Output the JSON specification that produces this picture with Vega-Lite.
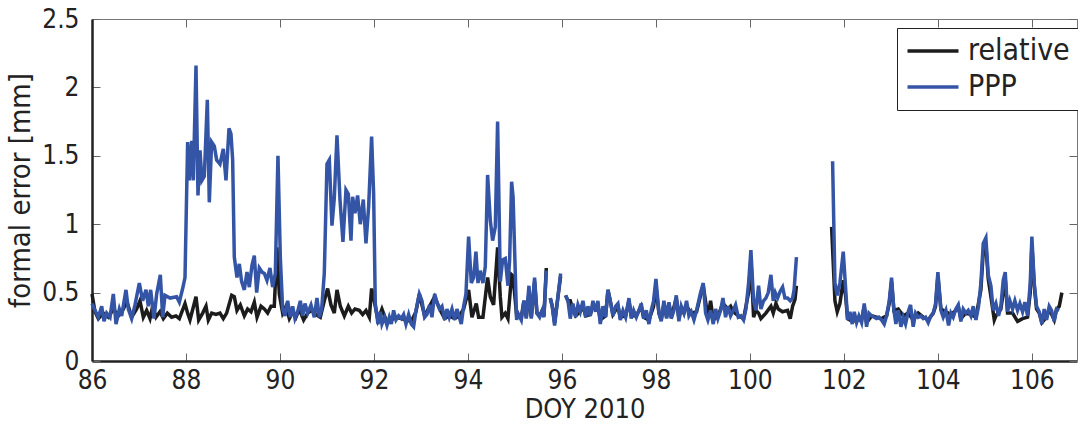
{
  "$schema": "https://vega.github.io/schema/vega-lite/v6.json",
  "width": 985,
  "height": 342,
  "autosize": "none",
  "padding": {"left": 92, "top": 19, "right": 1, "bottom": 64},
  "background": "white",
  "config": {
    "view": {"stroke": null},
    "font": "Liberation Sans Narrow, DejaVu Sans Condensed, Liberation Sans",
    "axis": {"grid": false, "labelFont": "Liberation Sans Narrow, DejaVu Sans Condensed, Liberation Sans", "titleFont": "Liberation Sans Narrow, DejaVu Sans Condensed, Liberation Sans"},
    "legend": {"labelFont": "Liberation Sans Narrow, DejaVu Sans Condensed, Liberation Sans"}
  },
  "datasets": {
    "relative": [
      {"doy": 86.0, "err": 0.49}, {"doy": 86.064, "err": 0.36}, {"doy": 86.135, "err": 0.31}, {"doy": 86.241, "err": 0.35}, {"doy": 86.348, "err": 0.32}, {"doy": 86.454, "err": 0.38}, {"doy": 86.56, "err": 0.33}, {"doy": 86.667, "err": 0.38}, {"doy": 86.738, "err": 0.44}, {"doy": 86.844, "err": 0.32}, {"doy": 86.95, "err": 0.38}, {"doy": 87.021, "err": 0.44}, {"doy": 87.092, "err": 0.32}, {"doy": 87.163, "err": 0.37}, {"doy": 87.234, "err": 0.31}, {"doy": 87.291, "err": 0.40}, {"doy": 87.362, "err": 0.32}, {"doy": 87.447, "err": 0.36}, {"doy": 87.518, "err": 0.31}, {"doy": 87.603, "err": 0.35}, {"doy": 87.695, "err": 0.32}, {"doy": 87.787, "err": 0.33}, {"doy": 87.858, "err": 0.31}, {"doy": 87.979, "err": 0.42}, {"doy": 88.035, "err": 0.35}, {"doy": 88.085, "err": 0.30}, {"doy": 88.213, "err": 0.47}, {"doy": 88.27, "err": 0.30}, {"doy": 88.355, "err": 0.35}, {"doy": 88.426, "err": 0.40}, {"doy": 88.475, "err": 0.30}, {"doy": 88.546, "err": 0.35}, {"doy": 88.638, "err": 0.34}, {"doy": 88.723, "err": 0.35}, {"doy": 88.794, "err": 0.31}, {"doy": 88.865, "err": 0.35}, {"doy": 88.972, "err": 0.48},
      {"doy": 89.028, "err": 0.47}, {"doy": 89.085, "err": 0.37}, {"doy": 89.156, "err": 0.41}, {"doy": 89.241, "err": 0.33}, {"doy": 89.312, "err": 0.38}, {"doy": 89.383, "err": 0.36}, {"doy": 89.454, "err": 0.43}, {"doy": 89.511, "err": 0.32}, {"doy": 89.596, "err": 0.40}, {"doy": 89.667, "err": 0.38}, {"doy": 89.738, "err": 0.35}, {"doy": 89.809, "err": 0.40}, {"doy": 89.879, "err": 0.40}, {"doy": 89.936, "err": 0.83}, {"doy": 89.986, "err": 0.49}, {"doy": 90.057, "err": 0.35}, {"doy": 90.128, "err": 0.40}, {"doy": 90.199, "err": 0.31}, {"doy": 90.27, "err": 0.36}, {"doy": 90.34, "err": 0.32}, {"doy": 90.411, "err": 0.38}, {"doy": 90.504, "err": 0.30}, {"doy": 90.589, "err": 0.35}, {"doy": 90.674, "err": 0.37}, {"doy": 90.766, "err": 0.34}, {"doy": 90.858, "err": 0.32}, {"doy": 90.943, "err": 0.44}, {"doy": 91.014, "err": 0.53}, {"doy": 91.085, "err": 0.41}, {"doy": 91.156, "err": 0.35}, {"doy": 91.213, "err": 0.52}, {"doy": 91.284, "err": 0.40}, {"doy": 91.369, "err": 0.33}, {"doy": 91.454, "err": 0.40}, {"doy": 91.525, "err": 0.35}, {"doy": 91.596, "err": 0.38}, {"doy": 91.688, "err": 0.37}, {"doy": 91.759, "err": 0.34}, {"doy": 91.83, "err": 0.37}, {"doy": 91.901, "err": 0.32}, {"doy": 91.95, "err": 0.53},
      {"doy": 92.028, "err": 0.40}, {"doy": 92.085, "err": 0.30}, {"doy": 92.17, "err": 0.38}, {"doy": 92.277, "err": 0.28}, {"doy": 92.369, "err": 0.30}, {"doy": 92.468, "err": 0.32}, {"doy": 92.582, "err": 0.31}, {"doy": 92.681, "err": 0.30}, {"doy": 92.794, "err": 0.29}, {"doy": 92.894, "err": 0.36}, {"doy": 92.965, "err": 0.49}, {"doy": 93.078, "err": 0.33}, {"doy": 93.184, "err": 0.40}, {"doy": 93.291, "err": 0.47}, {"doy": 93.397, "err": 0.38}, {"doy": 93.504, "err": 0.31}, {"doy": 93.603, "err": 0.33}, {"doy": 93.716, "err": 0.31}, {"doy": 93.816, "err": 0.33}, {"doy": 93.908, "err": 0.38}, {"doy": 94.014, "err": 0.52}, {"doy": 94.085, "err": 0.32}, {"doy": 94.177, "err": 0.42}, {"doy": 94.227, "err": 0.32}, {"doy": 94.319, "err": 0.32}, {"doy": 94.418, "err": 0.61}, {"doy": 94.475, "err": 0.47}, {"doy": 94.546, "err": 0.41}, {"doy": 94.631, "err": 0.83}, {"doy": 94.688, "err": 0.47}, {"doy": 94.723, "err": 0.32}, {"doy": 94.794, "err": 0.35}, {"doy": 94.851, "err": 0.31}, {"doy": 94.929, "err": 0.63}, {"doy": 94.96, "err": 0.62},
      {"doy": 95.036, "err": 0.33}, {"doy": 95.135, "err": 0.32}, {"doy": 95.191, "err": 0.44}, {"doy": 95.241, "err": 0.32}, {"doy": 95.298, "err": 0.50}, {"doy": 95.348, "err": 0.32}, {"doy": 95.418, "err": 0.58}, {"doy": 95.468, "err": 0.35}, {"doy": 95.525, "err": 0.33}, {"doy": 95.582, "err": 0.37}, {"doy": 95.617, "err": 0.33}, {"doy": 95.667, "err": 0.68}, {"doy": 95.70, "err": null}, {"doy": 95.752, "err": 0.46}, {"doy": 95.794, "err": 0.40}, {"doy": 95.844, "err": 0.28}, {"doy": 95.915, "err": 0.47}, {"doy": 95.972, "err": 0.62}, {"doy": 96.02, "err": null}, {"doy": 96.078, "err": 0.48}, {"doy": 96.128, "err": 0.44}, {"doy": 96.177, "err": 0.44}, {"doy": 96.234, "err": 0.38}, {"doy": 96.291, "err": 0.33}, {"doy": 96.39, "err": 0.36}, {"doy": 96.447, "err": 0.40}, {"doy": 96.504, "err": 0.33}, {"doy": 96.603, "err": 0.34}, {"doy": 96.66, "err": 0.40}, {"doy": 96.766, "err": 0.40}, {"doy": 96.816, "err": 0.30}, {"doy": 96.929, "err": 0.33}, {"doy": 96.979, "err": 0.52}, {"doy": 97.028, "err": 0.44}, {"doy": 97.085, "err": 0.34}, {"doy": 97.191, "err": 0.40}, {"doy": 97.241, "err": 0.32}, {"doy": 97.355, "err": 0.33}, {"doy": 97.426, "err": 0.44}, {"doy": 97.475, "err": 0.33}, {"doy": 97.582, "err": 0.33}, {"doy": 97.688, "err": 0.40}, {"doy": 97.738, "err": 0.32}, {"doy": 97.851, "err": 0.30}, {"doy": 97.95, "err": 0.40},
      {"doy": 98.0, "err": 0.55}, {"doy": 98.064, "err": 0.35}, {"doy": 98.113, "err": 0.30}, {"doy": 98.17, "err": 0.42}, {"doy": 98.227, "err": 0.32}, {"doy": 98.277, "err": 0.42}, {"doy": 98.326, "err": 0.32}, {"doy": 98.433, "err": 0.46}, {"doy": 98.489, "err": 0.31}, {"doy": 98.539, "err": 0.39}, {"doy": 98.596, "err": 0.35}, {"doy": 98.652, "err": 0.40}, {"doy": 98.752, "err": 0.35}, {"doy": 98.865, "err": 0.36}, {"doy": 98.95, "err": 0.48}, {"doy": 99.007, "err": 0.55}, {"doy": 99.106, "err": 0.32}, {"doy": 99.163, "err": 0.44}, {"doy": 99.22, "err": 0.30}, {"doy": 99.319, "err": 0.33}, {"doy": 99.426, "err": 0.42}, {"doy": 99.532, "err": 0.38}, {"doy": 99.589, "err": 0.40}, {"doy": 99.645, "err": 0.36}, {"doy": 99.752, "err": 0.33}, {"doy": 99.865, "err": 0.31}, {"doy": 99.972, "err": 0.50}, {"doy": 100.021, "err": 0.75}, {"doy": 100.078, "err": 0.32}, {"doy": 100.128, "err": 0.37}, {"doy": 100.184, "err": 0.35}, {"doy": 100.234, "err": 0.31}, {"doy": 100.34, "err": 0.35}, {"doy": 100.447, "err": 0.40}, {"doy": 100.496, "err": 0.35}, {"doy": 100.553, "err": 0.42}, {"doy": 100.603, "err": 0.38}, {"doy": 100.695, "err": 0.36}, {"doy": 100.801, "err": 0.37}, {"doy": 100.858, "err": 0.31}, {"doy": 100.908, "err": 0.40}, {"doy": 100.96, "err": 0.45}, {"doy": 100.99, "err": 0.55}, {"doy": 101.4, "err": null},
      {"doy": 101.738, "err": 0.98}, {"doy": 101.809, "err": 0.44}, {"doy": 101.858, "err": 0.36}, {"doy": 101.915, "err": 0.42}, {"doy": 101.986, "err": 0.59}, {"doy": 102.035, "err": 0.48}, {"doy": 102.078, "err": 0.31}, {"doy": 102.177, "err": 0.29}, {"doy": 102.27, "err": 0.30}, {"doy": 102.376, "err": 0.30}, {"doy": 102.433, "err": 0.40}, {"doy": 102.482, "err": 0.28}, {"doy": 102.589, "err": 0.33}, {"doy": 102.695, "err": 0.32}, {"doy": 102.801, "err": 0.31}, {"doy": 102.908, "err": 0.33}, {"doy": 102.965, "err": 0.42}, {"doy": 103.014, "err": 0.58}, {"doy": 103.064, "err": 0.37}, {"doy": 103.156, "err": 0.38}, {"doy": 103.262, "err": 0.33}, {"doy": 103.369, "err": 0.35}, {"doy": 103.475, "err": 0.30}, {"doy": 103.582, "err": 0.35}, {"doy": 103.688, "err": 0.32}, {"doy": 103.794, "err": 0.30}, {"doy": 103.901, "err": 0.35}, {"doy": 103.95, "err": 0.40}, {"doy": 104.0, "err": 0.62}, {"doy": 104.064, "err": 0.38}, {"doy": 104.17, "err": 0.36}, {"doy": 104.277, "err": 0.34}, {"doy": 104.383, "err": 0.37}, {"doy": 104.433, "err": 0.40}, {"doy": 104.489, "err": 0.31}, {"doy": 104.596, "err": 0.35}, {"doy": 104.702, "err": 0.34}, {"doy": 104.809, "err": 0.32}, {"doy": 104.915, "err": 0.52}, {"doy": 104.965, "err": 0.80}, {"doy": 105.021, "err": 0.85}, {"doy": 105.071, "err": 0.60}, {"doy": 105.128, "err": 0.47}, {"doy": 105.2, "err": 0.30}, {"doy": 105.234, "err": 0.33}, {"doy": 105.34, "err": 0.38}, {"doy": 105.433, "err": 0.60}, {"doy": 105.482, "err": 0.35}, {"doy": 105.589, "err": 0.35}, {"doy": 105.695, "err": 0.29}, {"doy": 105.801, "err": 0.31}, {"doy": 105.908, "err": 0.32}, {"doy": 105.965, "err": 0.50}, {"doy": 106.0, "err": 0.85}, {"doy": 106.05, "err": 0.55}, {"doy": 106.099, "err": 0.38}, {"doy": 106.156, "err": 0.35}, {"doy": 106.213, "err": 0.28}, {"doy": 106.312, "err": 0.32}, {"doy": 106.369, "err": 0.38}, {"doy": 106.475, "err": 0.30}, {"doy": 106.525, "err": 0.38}, {"doy": 106.582, "err": 0.40}, {"doy": 106.638, "err": 0.50}
    ],
    "PPP": [
      {"doy": 86.0, "err": 0.42}, {"doy": 86.064, "err": 0.37}, {"doy": 86.135, "err": 0.32}, {"doy": 86.206, "err": 0.40}, {"doy": 86.255, "err": 0.29}, {"doy": 86.312, "err": 0.35}, {"doy": 86.383, "err": 0.32}, {"doy": 86.454, "err": 0.49}, {"doy": 86.511, "err": 0.27}, {"doy": 86.582, "err": 0.38}, {"doy": 86.631, "err": 0.33}, {"doy": 86.723, "err": 0.52}, {"doy": 86.773, "err": 0.38}, {"doy": 86.844, "err": 0.31}, {"doy": 86.915, "err": 0.41}, {"doy": 87.007, "err": 0.57}, {"doy": 87.078, "err": 0.44}, {"doy": 87.149, "err": 0.52}, {"doy": 87.199, "err": 0.40}, {"doy": 87.248, "err": 0.52}, {"doy": 87.319, "err": 0.31}, {"doy": 87.376, "err": 0.49}, {"doy": 87.454, "err": 0.63}, {"doy": 87.504, "err": 0.32}, {"doy": 87.553, "err": 0.48}, {"doy": 87.66, "err": 0.46}, {"doy": 87.801, "err": 0.47}, {"doy": 87.858, "err": 0.43}, {"doy": 87.929, "err": 0.53}, {"doy": 87.979, "err": 0.61},
      {"doy": 88.035, "err": 1.60}, {"doy": 88.071, "err": 1.32}, {"doy": 88.121, "err": 1.61}, {"doy": 88.156, "err": 1.32}, {"doy": 88.213, "err": 2.16}, {"doy": 88.255, "err": 1.21}, {"doy": 88.298, "err": 1.54}, {"doy": 88.34, "err": 1.32}, {"doy": 88.39, "err": 1.35}, {"doy": 88.454, "err": 1.91}, {"doy": 88.496, "err": 1.16}, {"doy": 88.546, "err": 1.60}, {"doy": 88.603, "err": 1.57}, {"doy": 88.652, "err": 1.47}, {"doy": 88.723, "err": 1.44}, {"doy": 88.794, "err": 1.55}, {"doy": 88.851, "err": 1.32}, {"doy": 88.915, "err": 1.70}, {"doy": 88.957, "err": 1.66}, {"doy": 88.993, "err": 1.47},
      {"doy": 89.028, "err": 0.76}, {"doy": 89.085, "err": 0.61}, {"doy": 89.135, "err": 0.71}, {"doy": 89.184, "err": 0.58}, {"doy": 89.241, "err": 0.52}, {"doy": 89.298, "err": 0.65}, {"doy": 89.348, "err": 0.54}, {"doy": 89.404, "err": 0.70}, {"doy": 89.454, "err": 0.77}, {"doy": 89.504, "err": 0.50}, {"doy": 89.56, "err": 0.68}, {"doy": 89.617, "err": 0.65}, {"doy": 89.667, "err": 0.64}, {"doy": 89.723, "err": 0.59}, {"doy": 89.787, "err": 0.68}, {"doy": 89.844, "err": 0.54}, {"doy": 89.901, "err": 0.64}, {"doy": 89.957, "err": 1.50}, {"doy": 90.007, "err": 0.76}, {"doy": 90.057, "err": 0.38}, {"doy": 90.106, "err": 0.33}, {"doy": 90.163, "err": 0.44}, {"doy": 90.22, "err": 0.32}, {"doy": 90.27, "err": 0.40}, {"doy": 90.319, "err": 0.31}, {"doy": 90.376, "err": 0.36}, {"doy": 90.433, "err": 0.44}, {"doy": 90.482, "err": 0.33}, {"doy": 90.532, "err": 0.42}, {"doy": 90.589, "err": 0.35}, {"doy": 90.66, "err": 0.41}, {"doy": 90.73, "err": 0.32}, {"doy": 90.787, "err": 0.46}, {"doy": 90.837, "err": 0.32}, {"doy": 90.887, "err": 0.38}, {"doy": 90.943, "err": 0.64},
      {"doy": 91.0, "err": 1.44}, {"doy": 91.05, "err": 1.47}, {"doy": 91.106, "err": 0.99}, {"doy": 91.156, "err": 1.19}, {"doy": 91.213, "err": 1.65}, {"doy": 91.277, "err": 1.18}, {"doy": 91.34, "err": 0.87}, {"doy": 91.404, "err": 1.25}, {"doy": 91.454, "err": 1.22}, {"doy": 91.511, "err": 0.88}, {"doy": 91.546, "err": 1.20}, {"doy": 91.596, "err": 1.08}, {"doy": 91.652, "err": 1.21}, {"doy": 91.709, "err": 1.00}, {"doy": 91.773, "err": 1.18}, {"doy": 91.83, "err": 0.86}, {"doy": 91.887, "err": 1.13}, {"doy": 91.95, "err": 1.64}, {"doy": 91.993, "err": 1.22},
      {"doy": 92.028, "err": 0.42}, {"doy": 92.085, "err": 0.27}, {"doy": 92.135, "err": 0.36}, {"doy": 92.17, "err": 0.27}, {"doy": 92.227, "err": 0.32}, {"doy": 92.277, "err": 0.26}, {"doy": 92.326, "err": 0.32}, {"doy": 92.369, "err": 0.27}, {"doy": 92.418, "err": 0.37}, {"doy": 92.468, "err": 0.30}, {"doy": 92.525, "err": 0.33}, {"doy": 92.582, "err": 0.31}, {"doy": 92.631, "err": 0.34}, {"doy": 92.681, "err": 0.27}, {"doy": 92.738, "err": 0.34}, {"doy": 92.794, "err": 0.27}, {"doy": 92.844, "err": 0.25}, {"doy": 92.894, "err": 0.37}, {"doy": 92.965, "err": 0.49}, {"doy": 93.021, "err": 0.44}, {"doy": 93.078, "err": 0.32}, {"doy": 93.128, "err": 0.34}, {"doy": 93.184, "err": 0.41}, {"doy": 93.234, "err": 0.32}, {"doy": 93.291, "err": 0.49}, {"doy": 93.34, "err": 0.43}, {"doy": 93.397, "err": 0.38}, {"doy": 93.447, "err": 0.40}, {"doy": 93.504, "err": 0.30}, {"doy": 93.553, "err": 0.38}, {"doy": 93.603, "err": 0.32}, {"doy": 93.66, "err": 0.38}, {"doy": 93.716, "err": 0.30}, {"doy": 93.766, "err": 0.38}, {"doy": 93.816, "err": 0.32}, {"doy": 93.858, "err": 0.27}, {"doy": 93.908, "err": 0.40}, {"doy": 93.957, "err": 0.49},
      {"doy": 94.014, "err": 0.91}, {"doy": 94.071, "err": 0.57}, {"doy": 94.121, "err": 0.61}, {"doy": 94.17, "err": 0.80}, {"doy": 94.213, "err": 0.57}, {"doy": 94.262, "err": 0.66}, {"doy": 94.319, "err": 0.57}, {"doy": 94.369, "err": 0.69}, {"doy": 94.418, "err": 1.36}, {"doy": 94.475, "err": 1.03}, {"doy": 94.525, "err": 0.88}, {"doy": 94.582, "err": 0.98}, {"doy": 94.631, "err": 1.75}, {"doy": 94.688, "err": 0.58}, {"doy": 94.738, "err": 0.74}, {"doy": 94.794, "err": 0.75}, {"doy": 94.851, "err": 0.55}, {"doy": 94.887, "err": 0.74}, {"doy": 94.929, "err": 1.31}, {"doy": 94.96, "err": 1.20},
      {"doy": 95.036, "err": 0.30}, {"doy": 95.064, "err": 0.35}, {"doy": 95.135, "err": 0.30}, {"doy": 95.191, "err": 0.44}, {"doy": 95.241, "err": 0.31}, {"doy": 95.298, "err": 0.55}, {"doy": 95.348, "err": 0.31}, {"doy": 95.418, "err": 0.61}, {"doy": 95.468, "err": 0.35}, {"doy": 95.525, "err": 0.32}, {"doy": 95.582, "err": 0.37}, {"doy": 95.617, "err": 0.32}, {"doy": 95.667, "err": 0.66}, {"doy": 95.70, "err": null}, {"doy": 95.752, "err": 0.46}, {"doy": 95.794, "err": 0.40}, {"doy": 95.844, "err": 0.26}, {"doy": 95.915, "err": 0.47}, {"doy": 95.972, "err": 0.64}, {"doy": 96.02, "err": null}, {"doy": 96.078, "err": 0.48}, {"doy": 96.128, "err": 0.44}, {"doy": 96.177, "err": 0.31}, {"doy": 96.234, "err": 0.42}, {"doy": 96.291, "err": 0.32}, {"doy": 96.34, "err": 0.41}, {"doy": 96.39, "err": 0.36}, {"doy": 96.447, "err": 0.44}, {"doy": 96.504, "err": 0.32}, {"doy": 96.553, "err": 0.40}, {"doy": 96.603, "err": 0.33}, {"doy": 96.66, "err": 0.44}, {"doy": 96.716, "err": 0.36}, {"doy": 96.766, "err": 0.44}, {"doy": 96.816, "err": 0.27}, {"doy": 96.872, "err": 0.40}, {"doy": 96.929, "err": 0.32}, {"doy": 96.979, "err": 0.52}, {"doy": 97.028, "err": 0.44}, {"doy": 97.085, "err": 0.33}, {"doy": 97.142, "err": 0.40}, {"doy": 97.191, "err": 0.42}, {"doy": 97.241, "err": 0.30}, {"doy": 97.298, "err": 0.37}, {"doy": 97.355, "err": 0.32}, {"doy": 97.426, "err": 0.46}, {"doy": 97.475, "err": 0.31}, {"doy": 97.525, "err": 0.37}, {"doy": 97.582, "err": 0.32}, {"doy": 97.638, "err": 0.37}, {"doy": 97.688, "err": 0.42}, {"doy": 97.738, "err": 0.31}, {"doy": 97.794, "err": 0.37}, {"doy": 97.851, "err": 0.27}, {"doy": 97.901, "err": 0.37}, {"doy": 97.95, "err": 0.44},
      {"doy": 98.0, "err": 0.60}, {"doy": 98.064, "err": 0.35}, {"doy": 98.113, "err": 0.29}, {"doy": 98.17, "err": 0.44}, {"doy": 98.227, "err": 0.31}, {"doy": 98.277, "err": 0.43}, {"doy": 98.326, "err": 0.31}, {"doy": 98.383, "err": 0.37}, {"doy": 98.433, "err": 0.48}, {"doy": 98.489, "err": 0.29}, {"doy": 98.539, "err": 0.40}, {"doy": 98.596, "err": 0.35}, {"doy": 98.652, "err": 0.44}, {"doy": 98.702, "err": 0.33}, {"doy": 98.752, "err": 0.36}, {"doy": 98.809, "err": 0.30}, {"doy": 98.865, "err": 0.37}, {"doy": 98.95, "err": 0.50}, {"doy": 99.007, "err": 0.57}, {"doy": 99.057, "err": 0.35}, {"doy": 99.106, "err": 0.30}, {"doy": 99.163, "err": 0.37}, {"doy": 99.22, "err": 0.27}, {"doy": 99.27, "err": 0.38}, {"doy": 99.319, "err": 0.31}, {"doy": 99.376, "err": 0.37}, {"doy": 99.426, "err": 0.46}, {"doy": 99.482, "err": 0.32}, {"doy": 99.532, "err": 0.40}, {"doy": 99.589, "err": 0.33}, {"doy": 99.645, "err": 0.37}, {"doy": 99.695, "err": 0.41}, {"doy": 99.752, "err": 0.32}, {"doy": 99.809, "err": 0.33}, {"doy": 99.865, "err": 0.30}, {"doy": 99.915, "err": 0.38}, {"doy": 99.972, "err": 0.57}, {"doy": 100.021, "err": 0.81}, {"doy": 100.078, "err": 0.44}, {"doy": 100.128, "err": 0.37}, {"doy": 100.184, "err": 0.55}, {"doy": 100.234, "err": 0.38}, {"doy": 100.291, "err": 0.44}, {"doy": 100.34, "err": 0.46}, {"doy": 100.39, "err": 0.50}, {"doy": 100.447, "err": 0.63}, {"doy": 100.496, "err": 0.44}, {"doy": 100.539, "err": 0.50}, {"doy": 100.589, "err": 0.46}, {"doy": 100.645, "err": 0.51}, {"doy": 100.695, "err": 0.54}, {"doy": 100.745, "err": 0.46}, {"doy": 100.801, "err": 0.46}, {"doy": 100.858, "err": 0.44}, {"doy": 100.908, "err": 0.46}, {"doy": 100.94, "err": 0.52}, {"doy": 100.99, "err": 0.76}, {"doy": 101.4, "err": null},
      {"doy": 101.759, "err": 1.46}, {"doy": 101.809, "err": 0.57}, {"doy": 101.858, "err": 0.48}, {"doy": 101.915, "err": 0.57}, {"doy": 101.986, "err": 0.80}, {"doy": 102.035, "err": 0.54}, {"doy": 102.078, "err": 0.30}, {"doy": 102.128, "err": 0.36}, {"doy": 102.177, "err": 0.27}, {"doy": 102.22, "err": 0.36}, {"doy": 102.27, "err": 0.28}, {"doy": 102.319, "err": 0.33}, {"doy": 102.376, "err": 0.28}, {"doy": 102.433, "err": 0.42}, {"doy": 102.482, "err": 0.25}, {"doy": 102.532, "err": 0.35}, {"doy": 102.589, "err": 0.33}, {"doy": 102.645, "err": 0.32}, {"doy": 102.695, "err": 0.31}, {"doy": 102.745, "err": 0.32}, {"doy": 102.801, "err": 0.30}, {"doy": 102.858, "err": 0.27}, {"doy": 102.908, "err": 0.33}, {"doy": 102.965, "err": 0.44}, {"doy": 103.014, "err": 0.61}, {"doy": 103.064, "err": 0.37}, {"doy": 103.106, "err": 0.27}, {"doy": 103.156, "err": 0.37}, {"doy": 103.213, "err": 0.25}, {"doy": 103.262, "err": 0.32}, {"doy": 103.312, "err": 0.27}, {"doy": 103.369, "err": 0.36}, {"doy": 103.418, "err": 0.41}, {"doy": 103.475, "err": 0.25}, {"doy": 103.525, "err": 0.35}, {"doy": 103.582, "err": 0.32}, {"doy": 103.638, "err": 0.33}, {"doy": 103.688, "err": 0.31}, {"doy": 103.738, "err": 0.32}, {"doy": 103.794, "err": 0.28}, {"doy": 103.851, "err": 0.33}, {"doy": 103.901, "err": 0.35}, {"doy": 103.95, "err": 0.42},
      {"doy": 104.0, "err": 0.65}, {"doy": 104.064, "err": 0.37}, {"doy": 104.113, "err": 0.32}, {"doy": 104.17, "err": 0.37}, {"doy": 104.227, "err": 0.26}, {"doy": 104.277, "err": 0.35}, {"doy": 104.326, "err": 0.32}, {"doy": 104.383, "err": 0.38}, {"doy": 104.433, "err": 0.41}, {"doy": 104.489, "err": 0.29}, {"doy": 104.539, "err": 0.38}, {"doy": 104.596, "err": 0.35}, {"doy": 104.645, "err": 0.37}, {"doy": 104.702, "err": 0.33}, {"doy": 104.752, "err": 0.40}, {"doy": 104.809, "err": 0.30}, {"doy": 104.865, "err": 0.40}, {"doy": 104.915, "err": 0.57}, {"doy": 104.965, "err": 0.86}, {"doy": 105.021, "err": 0.90}, {"doy": 105.071, "err": 0.63}, {"doy": 105.128, "err": 0.55}, {"doy": 105.177, "err": 0.37}, {"doy": 105.234, "err": 0.42}, {"doy": 105.291, "err": 0.33}, {"doy": 105.34, "err": 0.40}, {"doy": 105.39, "err": 0.59}, {"doy": 105.433, "err": 0.65}, {"doy": 105.482, "err": 0.36}, {"doy": 105.532, "err": 0.44}, {"doy": 105.589, "err": 0.38}, {"doy": 105.638, "err": 0.44}, {"doy": 105.695, "err": 0.37}, {"doy": 105.745, "err": 0.42}, {"doy": 105.801, "err": 0.36}, {"doy": 105.851, "err": 0.43}, {"doy": 105.908, "err": 0.33}, {"doy": 105.965, "err": 0.57}, {"doy": 106.0, "err": 0.91}, {"doy": 106.05, "err": 0.57}, {"doy": 106.099, "err": 0.40}, {"doy": 106.156, "err": 0.36}, {"doy": 106.213, "err": 0.27}, {"doy": 106.262, "err": 0.38}, {"doy": 106.312, "err": 0.30}, {"doy": 106.369, "err": 0.40}, {"doy": 106.418, "err": 0.37}, {"doy": 106.475, "err": 0.29}, {"doy": 106.525, "err": 0.38}, {"doy": 106.582, "err": 0.37}
    ]
  },
  "layer": [
    {
      "data": {"name": "relative"},
      "mark": {"type": "line", "strokeWidth": 3.5, "invalid": "break-paths-show-domains"},
      "encoding": {
        "x": {"field": "doy", "type": "quantitative", "scale": {"domain": [86, 106.96], "nice": false, "zero": false},
          "axis": {"orient": "bottom", "values": [86, 88, 90, 92, 94, 96, 98, 100, 102, 104, 106], "title": "DOY 2010", "tickSize": -8, "tickColor": "#666", "tickWidth": 1, "domainColor": "#222", "domainWidth": 2.5, "labelFontSize": 26, "labelColor": "#222", "labelPadding": 14, "labelFlush": false, "labelOverlap": false, "titleFontSize": 27, "titleFontWeight": "normal", "titleColor": "#222", "titlePadding": 3}},
        "y": {"field": "err", "type": "quantitative", "scale": {"domain": [0, 2.5], "nice": false},
          "axis": {"orient": "left", "values": [0, 0.5, 1, 1.5, 2, 2.5], "format": "~g", "title": "formal error [mm]", "tickSize": -8, "tickColor": "#666", "tickWidth": 1, "domainColor": "#222", "domainWidth": 2.5, "labelFontSize": 26, "labelColor": "#222", "labelPadding": 21, "labelOverlap": false, "titleFontSize": 29, "titleFontWeight": "normal", "titleColor": "#222", "titlePadding": 6}},
        "color": {"datum": "relative", "type": "nominal",
          "scale": {"domain": ["relative", "PPP"], "range": ["#1c1c1c", "#3454a6"]},
          "legend": {"orient": "none", "legendX": 805, "legendY": 9, "title": null, "strokeColor": "#222", "fillColor": "white", "padding": 8, "symbolType": "M-2,0H2", "symbolSize": 650, "symbolStrokeWidth": 3.5, "symbolOffset": 13, "labelOffset": 20, "labelFontSize": 30, "labelColor": "#222", "rowPadding": 6}}
      }
    },
    {
      "data": {"name": "PPP"},
      "mark": {"type": "line", "strokeWidth": 3.5, "invalid": "break-paths-show-domains"},
      "encoding": {
        "x": {"field": "doy", "type": "quantitative",
          "axis": {"orient": "top", "values": [86, 88, 90, 92, 94, 96, 98, 100, 102, 104, 106], "labels": false, "title": null, "tickSize": -8, "tickColor": "#666", "tickWidth": 1, "domainColor": "#777", "domainWidth": 1}},
        "y": {"field": "err", "type": "quantitative",
          "axis": {"orient": "right", "values": [0, 0.5, 1, 1.5, 2, 2.5], "labels": false, "title": null, "tickSize": -8, "tickColor": "#666", "tickWidth": 1, "domainColor": "#777", "domainWidth": 1}},
        "color": {"datum": "PPP", "type": "nominal"}
      }
    }
  ],
  "resolve": {"axis": {"x": "independent", "y": "independent"}}
}
